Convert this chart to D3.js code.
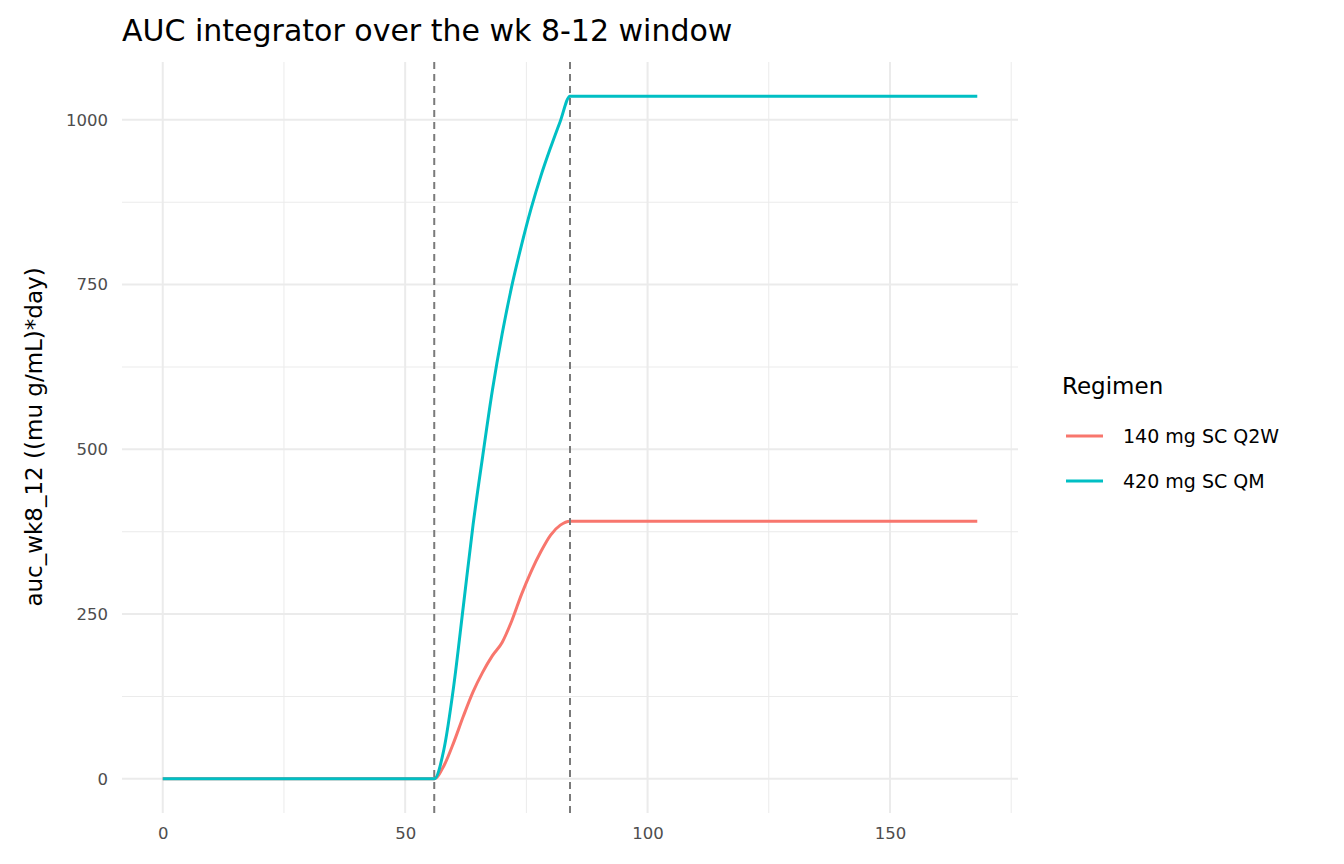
<!DOCTYPE html>
<html lang="en">
<head>
<meta charset="UTF-8">
<title>AUC integrator over the wk 8-12 window</title>
<script src="https://cdnjs.cloudflare.com/ajax/libs/d3/7.8.5/d3.min.js"></script>
<style>
    body { margin: 0; background: #fff; }
    svg text { font-family: 'DejaVu Sans', sans-serif; }
    .tick text { fill: #4d4d4d; font-size: 16.5px; }
</style>
</head>
<body>
<div id="chart"></div>
<script>
// day grid and the two integrated AUC series
const days = [0, 56, 58, 60, 62, 64, 66, 68, 70, 72, 74, 76, 78, 80, 82, 84, 168];
const auc140 = [0, 0, 20, 55, 95, 132, 162, 187, 207, 240, 280, 315, 345, 370, 385, 391, 391];
const auc420 = [0, 0, 45, 140, 262, 385, 490, 590, 675, 748, 810, 866, 915, 958, 998, 1036, 1036];
const seriesNames = ["140 mg SC Q2W", "420 mg SC QM"];
const seriesColors = ["#F8766D", "#00BFC4"];
const windowDays = [56, 84];
const xTicks = [0, 50, 100, 150];
const yTicks = [0, 250, 500, 750, 1000];

const W = 1344, H = 864;
const svg = d3.select("#chart").append("svg").attr("width", W).attr("height", H);

const x = d3.scaleLinear().domain([-8.4, 176.4]).range([122, 1018]);
const y = d3.scaleLinear().domain([-51.8, 1087.8]).range([813, 62]);

const grid = svg.append("g");
// minor grid
d3.range(25, 200, 50).forEach(v => grid.append("line")
    .attr("x1", x(v)).attr("x2", x(v)).attr("y1", 62).attr("y2", 813)
    .attr("stroke", "#ebebeb").attr("stroke-width", 1));
d3.range(125, 1100, 250).forEach(v => grid.append("line")
    .attr("x1", 122).attr("x2", 1018).attr("y1", y(v)).attr("y2", y(v))
    .attr("stroke", "#ebebeb").attr("stroke-width", 1));
// major grid
xTicks.forEach(v => grid.append("line")
    .attr("x1", x(v)).attr("x2", x(v)).attr("y1", 62).attr("y2", 813)
    .attr("stroke", "#ebebeb").attr("stroke-width", 2));
yTicks.forEach(v => grid.append("line")
    .attr("x1", 122).attr("x2", 1018).attr("y1", y(v)).attr("y2", y(v))
    .attr("stroke", "#ebebeb").attr("stroke-width", 2));

svg.append("g").attr("transform", "translate(0,813)")
    .call(d3.axisBottom(x).tickValues(xTicks).tickFormat(d3.format("d")).tickSize(0).tickPadding(14))
    .call(g => g.select(".domain").remove());
svg.append("g").attr("transform", "translate(122,0)")
    .call(d3.axisLeft(y).tickValues(yTicks).tickFormat(d3.format("d")).tickSize(0).tickPadding(14))
    .call(g => g.select(".domain").remove());

const line = d3.line().x(d => x(d[0])).y(d => y(d[1])).curve(d3.curveMonotoneX);
[auc140, auc420].forEach((vals, i) => {
    svg.append("path")
        .datum(days.map((d, j) => [d, vals[j]]))
        .attr("d", line)
        .attr("fill", "none").attr("stroke", seriesColors[i]).attr("stroke-width", 3);
});

windowDays.forEach(v => svg.append("line")
    .attr("x1", x(v)).attr("x2", x(v)).attr("y1", 62).attr("y2", 813)
    .attr("stroke", "#7a7a7a").attr("stroke-width", 2).attr("stroke-dasharray", "7,5"));

svg.append("text").attr("x", 122).attr("y", 41)
    .attr("font-size", 30).attr("fill", "#000").text("AUC integrator over the wk 8-12 window");
svg.append("text").attr("transform", "translate(42,437) rotate(-90)")
    .attr("text-anchor", "middle").attr("font-size", 23).attr("fill", "#000")
    .text("auc_wk8_12 ((mu g/mL)*day)");

// legend
const lg = svg.append("g").attr("transform", "translate(1062,0)");
lg.append("text").attr("x", 0).attr("y", 394).attr("font-size", 23).text("Regimen");
seriesNames.forEach((n, i) => {
    const yy = 436 + i * 45;
    lg.append("line").attr("x1", 4).attr("x2", 41).attr("y1", yy).attr("y2", yy)
        .attr("stroke", seriesColors[i]).attr("stroke-width", 3);
    lg.append("text").attr("x", 61).attr("y", yy + 7).attr("font-size", 19).text(n);
});
</script>
</body>
</html>
